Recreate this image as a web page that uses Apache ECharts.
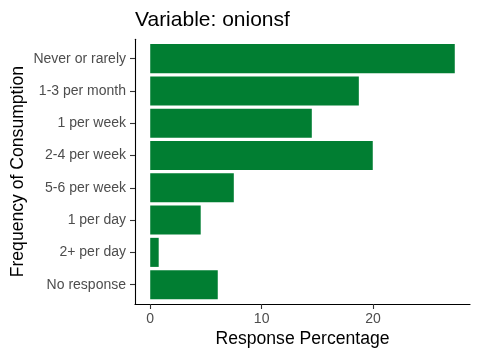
<!DOCTYPE html>
<html><head><meta charset="utf-8">
<script src="https://cdn.jsdelivr.net/npm/echarts@6/dist/echarts.min.js"></script>
<style>html,body{margin:0;padding:0;background:#fff}#c{width:480px;height:360px}</style>
</head><body><div id="c"></div>
<script>
var categories = ["Never or rarely","1-3 per month","1 per week","2-4 per week","5-6 per week","1 per day","2+ per day","No response"];
var values = [27.33, 18.72, 14.5, 19.97, 7.5, 4.53, 0.76, 6.06];
var xTicks = [0, 10, 20];
var titleText = "Variable: onionsf";
var xName = "Response Percentage";
var yName = "Frequency of Consumption";

var maxV = Math.max.apply(null, values);
var pad = maxV * 0.05;
var xmin = -pad, xmax = maxV + pad;
var font = "Liberation Sans, Arial, sans-serif";

var chart = echarts.init(document.getElementById('c'), null, {renderer:'canvas'});
chart.setOption({
  animation: false,
  backgroundColor: '#ffffff',
  title: {text: titleText, left: 130, top: 5,
    textStyle: {fontFamily: font, fontSize: 21, fontWeight: 'normal', color: '#000'}},
  grid: [
    {left: 135, right: 10, top: 39.3, bottom: 56, containLabel: false, outerBoundsMode: 'none'},
    {left: 135, right: 10, top: 42.5, bottom: 59.2, containLabel: false, outerBoundsMode: 'none'}
  ],
  xAxis: [
    {gridIndex: 0, type: 'value', min: xmin, max: xmax,
     axisLine: {show: true, onZero: false, lineStyle: {color: '#000', width: 1.1}},
     axisTick: {show: true, customValues: xTicks, length: 5, lineStyle: {color: '#333', width: 1.1}},
     axisLabel: {show: true, customValues: xTicks, margin: 8, fontFamily: font, fontSize: 14, color: '#4D4D4D'},
     splitLine: {show: false},
     name: xName, nameLocation: 'middle', nameGap: 26, nameMoveOverlap: false,
     nameTextStyle: {fontFamily: font, fontSize: 17.6, color: '#000'}},
    {gridIndex: 1, type: 'value', min: xmin, max: xmax, show: false}
  ],
  yAxis: [
    {gridIndex: 0, type: 'value', min: 0, max: 1,
     axisLine: {show: true, onZero: false, lineStyle: {color: '#000', width: 1.1}},
     axisTick: {show: false}, axisLabel: {show: false}, splitLine: {show: false}},
    {gridIndex: 1, type: 'category', inverse: true, data: categories,
     axisLine: {show: false, onZero: false},
     axisTick: {show: true, alignWithLabel: true, length: 5, lineStyle: {color: '#333', width: 1.1}},
     axisLabel: {margin: 9, align: 'right', fontFamily: font, fontSize: 14, color: '#4D4D4D'},
     name: yName, nameLocation: 'middle', nameGap: 108, nameRotate: 90, nameMoveOverlap: false,
     nameTextStyle: {fontFamily: font, fontSize: 17.6, color: '#000'}}
  ],
  series: [{
    type: 'bar', xAxisIndex: 1, yAxisIndex: 1,
    data: values, barCategoryGap: '10%',
    itemStyle: {color: '#017E32'}
  }]
});
</script></body></html>
